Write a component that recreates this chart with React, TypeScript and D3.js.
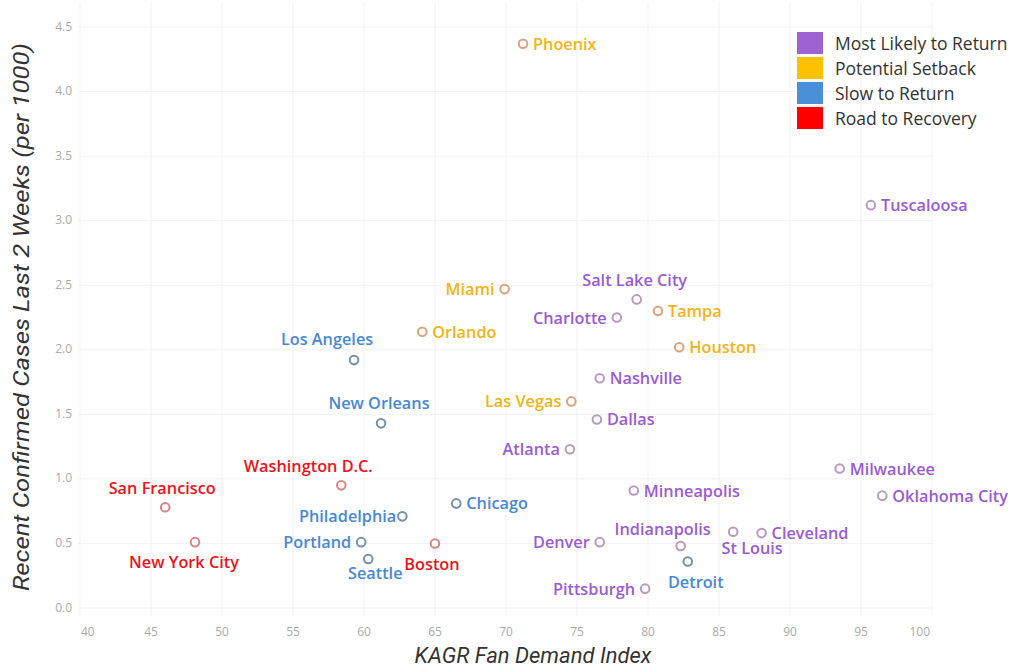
import React from "react";
import * as d3 from "d3";

const categories = ["Most Likely to Return", "Potential Setback", "Slow to Return", "Road to Recovery"];
const categoryColors = ["#9e62d4", "#ffc000", "#4a8fd9", "#ff0000"];
const labelColors = ["#9a5ccf", "#f0b417", "#4a88d0", "#e8141c"];
const markerColors = ["#b79cb9", "#d9a47c", "#7490aa", "#d98585"];

const cities = [
  "Phoenix", "Tuscaloosa", "Miami", "Salt Lake City", "Tampa", "Charlotte", "Orlando", "Houston",
  "Los Angeles", "Nashville", "Las Vegas", "Dallas", "New Orleans", "Atlanta", "Milwaukee",
  "Oklahoma City", "Washington D.C.", "San Francisco", "Minneapolis", "Chicago", "Philadelphia",
  "Indianapolis", "St Louis", "Cleveland", "Detroit", "Denver", "Pittsburgh", "Portland",
  "Seattle", "Boston", "New York City",
];
const fanDemand = [
  71.2, 95.7, 69.9, 79.2, 80.7, 77.8, 64.1, 82.2,
  59.3, 76.6, 74.6, 76.4, 61.2, 74.5, 93.5,
  96.5, 58.4, 46.0, 79.0, 66.5, 62.7,
  82.3, 86.0, 88.0, 82.8, 76.6, 79.8, 59.8,
  60.3, 65.0, 48.1,
];
const recentCases = [
  4.37, 3.12, 2.47, 2.39, 2.30, 2.25, 2.14, 2.02,
  1.92, 1.78, 1.60, 1.46, 1.43, 1.23, 1.08,
  0.87, 0.95, 0.78, 0.91, 0.81, 0.71,
  0.48, 0.59, 0.58, 0.36, 0.51, 0.15, 0.51,
  0.38, 0.50, 0.51,
];
const groupIndex = [
  1, 0, 1, 0, 1, 0, 1, 1,
  2, 0, 1, 0, 2, 0, 0,
  0, 3, 3, 0, 2, 2,
  0, 0, 0, 2, 0, 0, 2,
  2, 3, 3,
];
const xTicks = [40, 45, 50, 55, 60, 65, 70, 75, 80, 85, 90, 95, 100];
const yTicks = [0, 0.5, 1, 1.5, 2, 2.5, 3, 3.5, 4, 4.5];

// label placement (style, not data)
type Place = { a: "start" | "end" | "middle"; dx: number; dy: number };
const R: Place = { a: "start", dx: 10, dy: 0 };
const L: Place = { a: "end", dx: -10, dy: 0 };
const labelPlace: Record<string, Place> = {
  "Salt Lake City": { a: "middle", dx: -2, dy: -19 },
  "Los Angeles": { a: "middle", dx: -27, dy: -21 },
  "New Orleans": { a: "middle", dx: -2, dy: -20 },
  "Washington D.C.": { a: "middle", dx: -33, dy: -19 },
  "San Francisco": { a: "middle", dx: -3, dy: -19 },
  "Indianapolis": { a: "middle", dx: -18, dy: -17 },
  "St Louis": { a: "middle", dx: 19, dy: 16 },
  "Detroit": { a: "middle", dx: 8, dy: 20 },
  "Seattle": { a: "middle", dx: 7, dy: 14 },
  "Boston": { a: "middle", dx: -3, dy: 21 },
  "New York City": { a: "middle", dx: -11, dy: 20 },
  "Philadelphia": { a: "end", dx: -6, dy: 0 },
  "Miami": L, "Charlotte": L, "Las Vegas": L, "Atlanta": L, "Denver": L,
  "Pittsburgh": L, "Portland": L,
};

const W = 1019;
const H = 667;
const x = d3.scaleLinear().domain([40, 100]).range([80, 932]);
const y = d3.scaleLinear().domain([0, 4.5]).range([608, 27]);
const FONT = "'Open Sans', 'DejaVu Sans', sans-serif";

export default function App() {
  const fmtY = d3.format(".1f");
  return (
    <svg width={W} height={H} style={{ position: "absolute", left: 0, top: 0, background: "#fff" }}>
      <g>
        {xTicks.map((t) => (
          <line key={"vx" + t} x1={x(t)} x2={x(t)} y1={2} y2={616} stroke="#f1f1f1" strokeWidth={1} />
        ))}
        {yTicks.map((t) => (
          <line key={"hy" + t} x1={78} x2={932} y1={y(t)} y2={y(t)} stroke="#f1f1f1" strokeWidth={1} />
        ))}
      </g>
      <g fontFamily={FONT} fontSize={12} fill="#aaaaaa">
        {yTicks.map((t) => (
          <text key={"yl" + t} x={72} y={y(t) - 1} textAnchor="end" dominantBaseline="central">
            {fmtY(t)}
          </text>
        ))}
        {xTicks.map((t, i) => (
          <text
            key={"xl" + t}
            x={i === 0 ? x(t) + 1 : i === xTicks.length - 1 ? x(t) - 2 : x(t)}
            y={631}
            textAnchor={i === 0 ? "start" : i === xTicks.length - 1 ? "end" : "middle"}
            dominantBaseline="central"
          >
            {t}
          </text>
        ))}
      </g>
      <text
        x={533}
        y={655}
        textAnchor="middle"
        dominantBaseline="central"
        fontFamily="Roboto, sans-serif"
        fontStyle="italic"
        fontSize={22}
        fill="#333"
      >
        KAGR Fan Demand Index
      </text>
      <text
        transform={`translate(21,317) rotate(-90)`}
        textAnchor="middle"
        dominantBaseline="central"
        fontFamily="Roboto, sans-serif"
        fontStyle="italic"
        fontSize={22}
        textLength={548}
        lengthAdjust="spacingAndGlyphs"
        fill="#333"
      >
        Recent Confirmed Cases Last 2 Weeks (per 1000)
      </text>
      <g>
        {cities.map((c, i) => (
          <circle
            key={"c" + c}
            cx={x(fanDemand[i])}
            cy={y(recentCases[i])}
            r={4.3}
            fill="#fff"
            stroke={markerColors[groupIndex[i]]}
            strokeWidth={2}
          />
        ))}
      </g>
      <g fontFamily={FONT} fontSize={16.3} fontWeight={600}>
        {cities.map((c, i) => {
          const p = labelPlace[c] || R;
          return (
            <text
              key={"t" + c}
              x={x(fanDemand[i]) + p.dx}
              y={y(recentCases[i]) + p.dy}
              textAnchor={p.a}
              dominantBaseline="central"
              fill={labelColors[groupIndex[i]]}
            >
              {c}
            </text>
          );
        })}
      </g>
      <g fontFamily={FONT} fontSize={17.5} fill="#333">
        {categories.map((c, i) => (
          <g key={"lg" + c} transform={`translate(797,${32 + i * 25})`}>
            <rect x={0} y={0} width={26} height={22} fill={categoryColors[i]} />
            <text x={38} y={11} dominantBaseline="central">
              {c}
            </text>
          </g>
        ))}
      </g>
    </svg>
  );
}
